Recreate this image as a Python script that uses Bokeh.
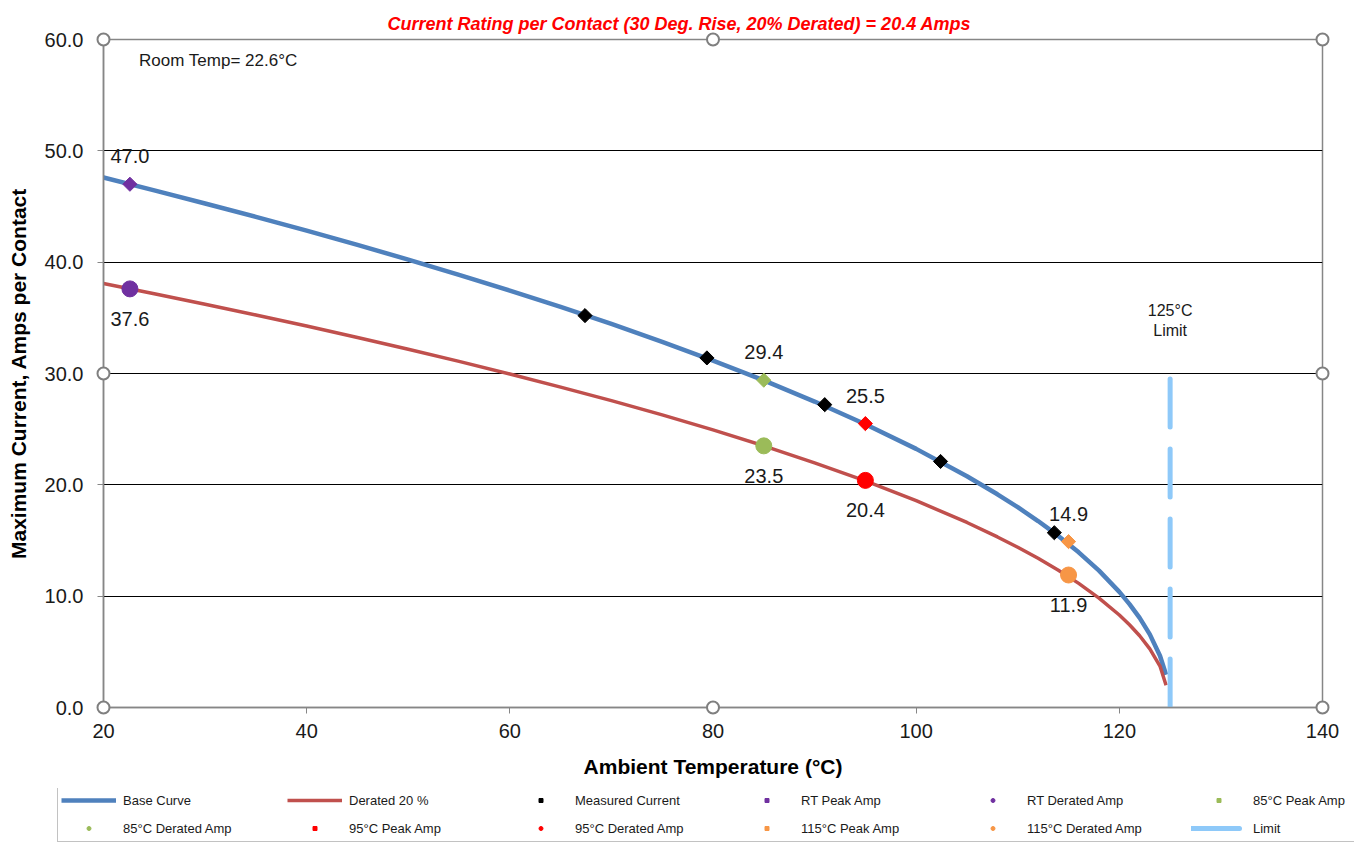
from bokeh.plotting import figure
from bokeh.layouts import column
from bokeh.models import Range1d, FixedTicker, PrintfTickFormatter, Label, Legend, LegendItem
from bokeh.embed import file_html
from bokeh.resources import INLINE
import numpy as np

# ---------------- data ----------------
curve_temp = [20, 25, 30, 35, 40, 45, 50, 55, 60, 65, 70, 75, 80, 85, 90, 95, 100,
              105, 108, 110, 112, 114, 116, 118, 120, 121, 122, 123, 124, 124.6]
base_curve = [47.60, 46.45, 45.27, 44.07, 42.83, 41.55, 40.23, 38.86, 37.45, 35.98, 34.45,
              32.85, 31.16, 29.38, 27.48, 25.44, 23.23, 20.77, 19.15, 17.99, 16.75, 15.41,
              13.94, 12.29, 10.39, 9.29, 8.05, 6.57, 4.65, 2.94]
derated_curve = [38.08, 37.16, 36.22, 35.26, 34.26, 33.24, 32.18, 31.09, 29.96, 28.78, 27.56,
                 26.28, 24.93, 23.50, 21.98, 20.35, 18.58, 16.62, 15.32, 14.39, 13.40, 12.33,
                 11.15, 9.83, 8.31, 7.43, 6.44, 5.26, 3.72, 2.00]

measured_temp = [67.4, 79.4, 91.0, 102.4, 113.6]
measured_current = [35.2, 31.4, 27.2, 22.1, 15.7]

point_names = ["RT", "85°C", "95°C", "115°C"]
point_temp = [22.6, 85, 95, 115]
peak_amp = [47.0, 29.4, 25.5, 14.9]
derated_amp = [37.6, 23.5, 20.4, 11.9]
point_colors = ["#7030A0", "#9BBB59", "#FF0000", "#F79646"]

limit_temp = [125, 125]
limit_current = [29.5, 0]

x_ticks = [20, 40, 60, 80, 100, 120, 140]
y_ticks = [0, 10, 20, 30, 40, 50, 60]
x_handles = [20, 80, 140]
y_handles = [0, 30, 60]

title_text = "Current Rating per Contact (30 Deg. Rise, 20% Derated)  = 20.4 Amps"
room_temp_text = "Room Temp= 22.6°C"

FONT = "Liberation Sans"

# ---------------- styles ----------------
BASE_STYLE = dict(line_color="#4F81BD", line_width=4.5, line_join="round")
DER_STYLE = dict(line_color="#C0504D", line_width=3.5, line_join="round")
LIMIT_STYLE = dict(line_color="#8EC9F9", line_width=5, line_dash="48 22", line_cap="round")


def diamond_style(c, size=10):
    return dict(marker="square", size=size, angle=np.pi / 4, fill_color=c, line_color=c)


def dot_style(c, size=16):
    return dict(marker="circle", size=size, fill_color=c, line_color=c)


# ---------------- main figure ----------------
p = figure(width=1354, height=788, output_backend="svg", toolbar_location=None,
           x_range=Range1d(x_ticks[0], x_ticks[-1]), y_range=Range1d(y_ticks[0], y_ticks[-1]),
           min_border_left=103, min_border_right=32, min_border_top=39, min_border_bottom=81,
           title=title_text)
p.background_fill_color = "white"
p.border_fill_color = "white"
p.outline_line_color = "#868686"
p.outline_line_width = 1.5

p.title.align = "left"
p.title.text_color = "#FF0000"
p.title.text_font = FONT
p.title.text_font_style = "bold italic"
p.title.text_font_size = "18px"
p.title.offset = 284
p.title.standoff = 11

for ax in (p.xaxis[0], p.yaxis[0]):
    ax.axis_line_color = "#868686"
    ax.axis_line_width = 1.5
    ax.major_tick_line_color = "#868686"
    ax.major_tick_out = 6
    ax.major_tick_in = 0
    ax.minor_tick_line_color = None
    ax.major_label_text_font = FONT
    ax.major_label_text_font_size = "20px"
    ax.major_label_text_color = "#1a1a1a"
    ax.axis_label_text_font = FONT
    ax.axis_label_text_font_style = "bold"
    ax.axis_label_text_color = "#000000"

p.xaxis.ticker = FixedTicker(ticks=x_ticks)
p.yaxis.ticker = FixedTicker(ticks=y_ticks)
p.yaxis.formatter = PrintfTickFormatter(format="%.1f")
p.xaxis.axis_label = "Ambient Temperature (°C)"
p.yaxis.axis_label = "Maximum Current, Amps per Contact"
p.xaxis.axis_label_text_font_size = "21px"
p.yaxis.axis_label_text_font_size = "21px"
p.xaxis.major_label_standoff = 10
p.xaxis.axis_label_standoff = 14
p.yaxis.major_label_standoff = 14
p.yaxis.axis_label_standoff = 12

p.xgrid.grid_line_color = None
p.ygrid.grid_line_color = "#000000"
p.ygrid.grid_line_width = 1

p.line(curve_temp, base_curve, **BASE_STYLE)
p.line(curve_temp, derated_curve, **DER_STYLE)
p.line(limit_temp, limit_current, **LIMIT_STYLE)
p.scatter(measured_temp, measured_current, **diamond_style("black"))
for i in range(len(point_temp)):
    p.scatter([point_temp[i]], [peak_amp[i]], **diamond_style(point_colors[i]))
    p.scatter([point_temp[i]], [derated_amp[i]], **dot_style(point_colors[i]))

lbl_font = "20px"
p.text(point_temp, peak_amp, text=["%.1f" % v for v in peak_amp], y_offset=-28,
       text_align="center", text_baseline="middle", text_font_size=lbl_font,
       text_color="#1a1a1a", text_font={"value": FONT})
p.text(point_temp, derated_amp, text=["%.1f" % v for v in derated_amp], y_offset=30,
       text_align="center", text_baseline="middle", text_font_size=lbl_font,
       text_color="#1a1a1a", text_font={"value": FONT})

p.add_layout(Label(x=23.5, y=58.1, text=room_temp_text, text_font=FONT, text_font_size="17px",
                   text_baseline="middle", text_align="left", text_color="#1a1a1a"))
p.add_layout(Label(x=limit_temp[0], y=35.7, text="125°C", text_font=FONT, text_font_size="16px",
                   text_baseline="middle", text_align="center", text_color="#1a1a1a"))
p.add_layout(Label(x=limit_temp[0], y=33.9, text="Limit", text_font=FONT, text_font_size="16px",
                   text_baseline="middle", text_align="center", text_color="#1a1a1a"))

# selection handles at corners / midpoints of plot area
hx, hy = [], []
for xv in x_handles:
    for yv in y_handles:
        if xv == x_handles[1] and yv == y_handles[1]:
            continue
        hx.append(xv)
        hy.append(yv)
p.scatter(hx, hy, marker="circle", size=12, fill_color="white", line_color="#7F7F7F",
          line_width=2, level="overlay")

# ---------------- legend strip (series drawn outside its view, legend only) ----------------
lg = figure(frame_width=1354, frame_height=54, output_backend="svg", toolbar_location=None,
            x_range=Range1d(-2, -1), y_range=Range1d(-2, -1), x_axis_type=None, y_axis_type=None,
            min_border=0, min_border_left=0, min_border_right=0, min_border_top=0,
            min_border_bottom=0)
lg.outline_line_color = None
lg.grid.visible = False
lg.background_fill_color = "white"
lg.border_fill_color = "white"

lr_base = lg.line(curve_temp, base_curve, **BASE_STYLE)
lr_der = lg.line(curve_temp, derated_curve, **DER_STYLE)
lr_meas = lg.scatter(measured_temp, measured_current, **diamond_style("black"))
lr_peak = [lg.scatter([point_temp[i]], [peak_amp[i]], **diamond_style(point_colors[i]))
           for i in range(len(point_temp))]
lr_dot = [lg.scatter([point_temp[i]], [derated_amp[i]], **dot_style(point_colors[i]))
          for i in range(len(point_temp))]
lr_limit = lg.line(limit_temp, limit_current, **LIMIT_STYLE)

items = [
    LegendItem(label="Base Curve", renderers=[lr_base]),
    LegendItem(label="Derated 20 %", renderers=[lr_der]),
    LegendItem(label="Measured Current", renderers=[lr_meas]),
    LegendItem(label="RT Peak Amp", renderers=[lr_peak[0]]),
    LegendItem(label="RT Derated Amp", renderers=[lr_dot[0]]),
    LegendItem(label="85°C Peak Amp", renderers=[lr_peak[1]]),
    LegendItem(label="85°C Derated Amp", renderers=[lr_dot[1]]),
    LegendItem(label="95°C Peak Amp", renderers=[lr_peak[2]]),
    LegendItem(label="95°C Derated Amp", renderers=[lr_dot[2]]),
    LegendItem(label="115°C Peak Amp", renderers=[lr_peak[3]]),
    LegendItem(label="115°C Derated Amp", renderers=[lr_dot[3]]),
    LegendItem(label="Limit", renderers=[lr_limit]),
]
legend = Legend(items=items, orientation="horizontal", ncols=6,
                location=(57, 0), padding=3, spacing=8, margin=0,
                glyph_width=55, glyph_height=10, label_height=20, label_width=156,
                label_standoff=7, label_text_font=FONT, label_text_font_size="13px",
                label_text_color="#1a1a1a", border_line_color="#868686", border_line_width=1.5,
                background_fill_color="white", background_fill_alpha=1.0)
lg.add_layout(legend, "center")

page = column(p, lg, spacing=0)
open("out.html", "w").write(file_html(page, INLINE))
